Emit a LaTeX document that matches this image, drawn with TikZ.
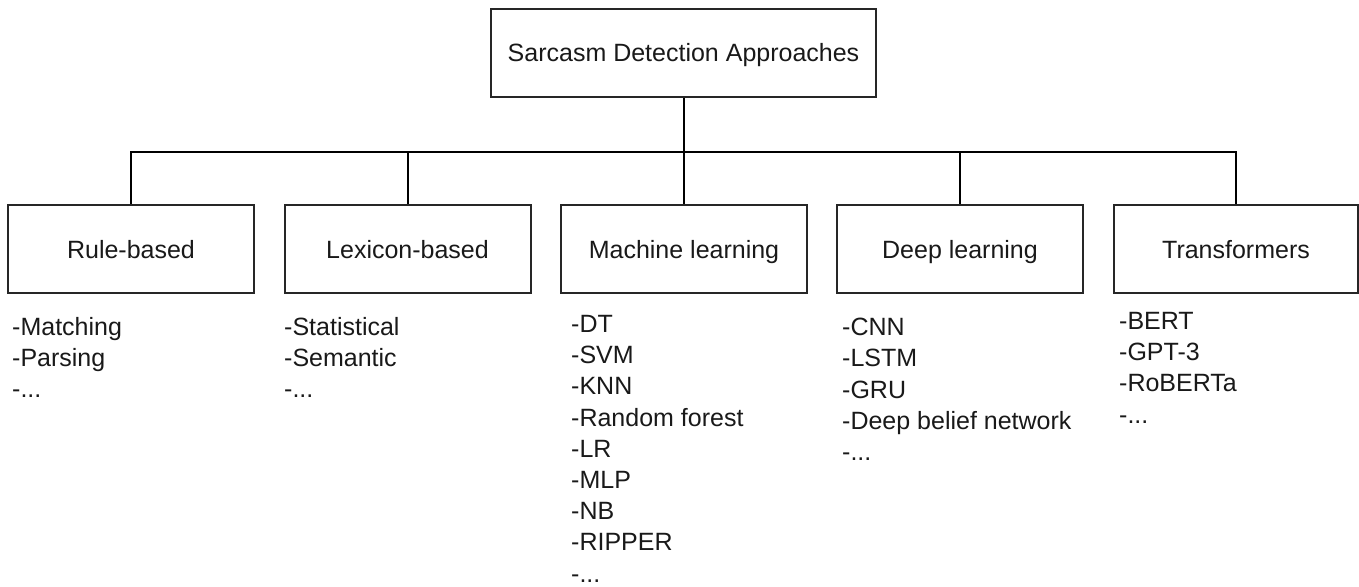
\documentclass[tikz,border=0pt]{standalone}
\usepackage{fontspec}
\setmainfont{Liberation Sans}
\begin{document}
\begin{tikzpicture}[x=1pt,y=-1pt,
  every node/.style={font=\fontsize{25}{31.2}\selectfont, text=black!90},
  catbox/.style={draw=black!85, line width=2pt, minimum width=246pt, minimum height=88pt, inner sep=0pt, text height=18pt, text depth=0pt},
  rootbox/.style={catbox, minimum width=385pt},
  itemlist/.style={anchor=north west, align=left, inner sep=0pt},
  conn/.style={draw=black, line width=2pt}]
\useasboundingbox (0,0) rectangle (1359,586);
\node[rootbox] (root) at (683.5,53) {Sarcasm Detection Approaches};
\node[catbox] (rule) at (131,249) {Rule-based};
\node[catbox] (lex) at (407.5,249) {Lexicon-based};
\node[catbox] (ml) at (684,249) {Machine learning};
\node[catbox] (dl) at (960,249) {Deep learning};
\node[catbox, minimum width=244pt] (tr) at (1236,249) {Transformers};
\coordinate (bus) at (683,152);
\foreach \c in {rule,lex,ml,dl,tr}{
  \draw[conn] (root.south) -- (root.south |- bus) -| (\c.north);
}
\node[itemlist] (rulel) at (12,317) {-Matching\\-Parsing\\-...};
\node[itemlist] (lexl) at (284,317) {-Statistical\\-Semantic\\-...};
\node[itemlist] (mll) at (571,315) {-DT\\-SVM\\-KNN\\-Random forest\\-LR\\-MLP\\-NB\\-RIPPER\\-...};
\node[itemlist] (dll) at (842,318) {-CNN\\-LSTM\\-GRU\\-Deep belief network\\-...};
\node[itemlist] (trl) at (1119,312) {-BERT\\-GPT-3\\-RoBERTa\\-...};
\end{tikzpicture}
\end{document}
